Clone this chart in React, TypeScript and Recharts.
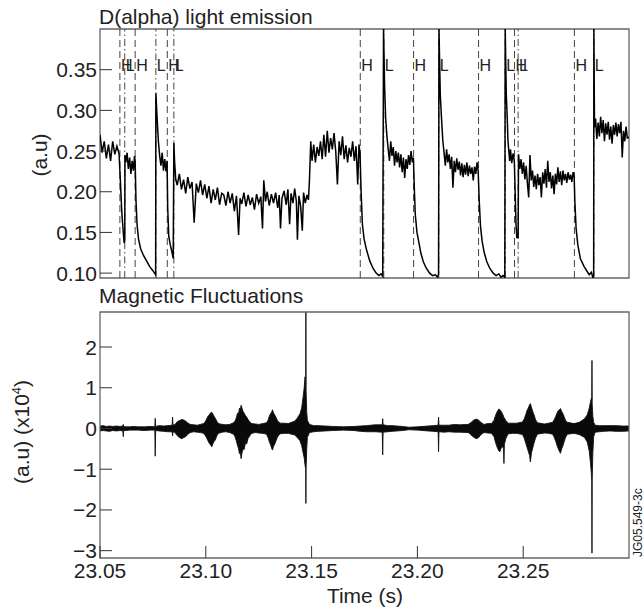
import React from "react";
import {
  LineChart,
  Line,
  ComposedChart,
  Area,
  XAxis,
  YAxis,
  ReferenceLine,
  ReferenceArea,
} from "recharts";

// D(alpha) trace: [time (s), signal (a.u)]
const dalpha: [number, number][] = [
  [23.05, 0.27], [23.051, 0.248], [23.052, 0.262], [23.053, 0.241], [23.054, 0.258],
  [23.055, 0.238], [23.056, 0.262], [23.057, 0.246], [23.058, 0.256], [23.059, 0.247],
  [23.0596, 0.215], [23.0603, 0.175], [23.061, 0.15], [23.0614, 0.137], [23.0617, 0.14],
  [23.0618, 0.245], [23.0622, 0.236], [23.0628, 0.248], [23.0634, 0.228], [23.064, 0.242],
  [23.0646, 0.222], [23.0652, 0.238], [23.0658, 0.226], [23.0663, 0.244], [23.0666, 0.238],
  [23.067, 0.19], [23.0675, 0.16], [23.0682, 0.142], [23.0692, 0.13], [23.0705, 0.122],
  [23.072, 0.115], [23.0735, 0.108], [23.075, 0.103], [23.076, 0.099], [23.0763, 0.098],
  [23.0764, 0.321], [23.077, 0.29], [23.0776, 0.262], [23.0782, 0.244], [23.0788, 0.232],
  [23.0794, 0.248], [23.08, 0.226], [23.0806, 0.24], [23.0812, 0.225], [23.0817, 0.238],
  [23.082, 0.18], [23.0825, 0.145], [23.0832, 0.135], [23.084, 0.126], [23.0846, 0.118],
  [23.0849, 0.26], [23.0853, 0.235], [23.0858, 0.215], [23.0865, 0.208], [23.0875, 0.222],
  [23.0885, 0.203], [23.0895, 0.215], [23.0905, 0.198], [23.0915, 0.218], [23.0925, 0.204],
  [23.0935, 0.212], [23.0945, 0.162], [23.0955, 0.21], [23.0965, 0.199], [23.0975, 0.214],
  [23.0985, 0.196], [23.0995, 0.209], [23.1005, 0.192], [23.1015, 0.207], [23.1025, 0.186],
  [23.1035, 0.203], [23.1045, 0.19], [23.1055, 0.205], [23.1065, 0.184], [23.1075, 0.198],
  [23.1085, 0.196], [23.1095, 0.183], [23.1105, 0.2], [23.1115, 0.186], [23.1125, 0.198],
  [23.1135, 0.176], [23.1145, 0.195], [23.1155, 0.147], [23.1162, 0.192], [23.117, 0.185],
  [23.118, 0.199], [23.119, 0.182], [23.12, 0.196], [23.121, 0.184], [23.122, 0.193],
  [23.123, 0.178], [23.124, 0.197], [23.125, 0.186], [23.126, 0.194], [23.1268, 0.155],
  [23.1274, 0.214], [23.1282, 0.188], [23.129, 0.2], [23.13, 0.183], [23.131, 0.197],
  [23.132, 0.186], [23.133, 0.199], [23.134, 0.18], [23.1347, 0.196], [23.1353, 0.155],
  [23.136, 0.192], [23.137, 0.201], [23.138, 0.184], [23.1388, 0.203], [23.1396, 0.16],
  [23.1403, 0.198], [23.1412, 0.186], [23.142, 0.204], [23.1428, 0.188], [23.1433, 0.141],
  [23.144, 0.195], [23.1448, 0.183], [23.1456, 0.152], [23.1462, 0.199], [23.147, 0.186],
  [23.1478, 0.196], [23.1485, 0.19], [23.149, 0.215], [23.1496, 0.262], [23.1502, 0.238],
  [23.151, 0.258], [23.1518, 0.236], [23.1526, 0.255], [23.1534, 0.244], [23.1542, 0.262],
  [23.155, 0.24], [23.1558, 0.27], [23.1566, 0.243], [23.1574, 0.275], [23.1582, 0.248],
  [23.159, 0.266], [23.1598, 0.252], [23.1606, 0.272], [23.1614, 0.25], [23.1622, 0.209],
  [23.163, 0.262], [23.1638, 0.245], [23.1646, 0.268], [23.1654, 0.24], [23.1662, 0.257],
  [23.167, 0.236], [23.1678, 0.254], [23.1686, 0.243], [23.1694, 0.262], [23.1702, 0.238],
  [23.171, 0.256], [23.1718, 0.209], [23.1724, 0.258], [23.1729, 0.246],
  [23.1734, 0.2], [23.174, 0.16], [23.1748, 0.142], [23.176, 0.128], [23.1775, 0.115],
  [23.179, 0.106], [23.1805, 0.1], [23.1818, 0.097], [23.1828, 0.099], [23.1836, 0.096],
  [23.184, 0.4], [23.1845, 0.33], [23.185, 0.29], [23.1856, 0.268], [23.1862, 0.252],
  [23.1868, 0.238], [23.1874, 0.262], [23.188, 0.244], [23.1886, 0.255], [23.1892, 0.232],
  [23.1898, 0.25], [23.1904, 0.236], [23.191, 0.248], [23.1916, 0.23], [23.1922, 0.246],
  [23.1928, 0.224], [23.1934, 0.242], [23.194, 0.217], [23.1946, 0.24], [23.1952, 0.228],
  [23.1958, 0.245], [23.1964, 0.233], [23.197, 0.25], [23.1976, 0.236], [23.1981, 0.242],
  [23.1986, 0.2], [23.199, 0.172], [23.1998, 0.15], [23.2006, 0.139], [23.2016, 0.125],
  [23.2028, 0.114], [23.2042, 0.106], [23.2058, 0.1], [23.2072, 0.097], [23.2085, 0.098],
  [23.2095, 0.095], [23.21, 0.099], [23.2102, 0.4], [23.2108, 0.32], [23.2114, 0.29],
  [23.212, 0.263], [23.2126, 0.248], [23.2132, 0.232], [23.2138, 0.252], [23.2144, 0.236],
  [23.215, 0.246], [23.2156, 0.228], [23.2162, 0.243], [23.2168, 0.205], [23.2174, 0.238],
  [23.218, 0.224], [23.2186, 0.241], [23.2192, 0.227], [23.2198, 0.237], [23.2204, 0.22],
  [23.221, 0.235], [23.2216, 0.218], [23.2222, 0.233], [23.2228, 0.221], [23.2234, 0.236],
  [23.224, 0.219], [23.2246, 0.232], [23.2252, 0.222], [23.2258, 0.23], [23.2264, 0.214],
  [23.227, 0.231], [23.2276, 0.222], [23.2282, 0.236], [23.2287, 0.226],
  [23.2292, 0.19], [23.2298, 0.158], [23.2306, 0.139], [23.2316, 0.125], [23.2328, 0.114],
  [23.2342, 0.106], [23.2358, 0.1], [23.2372, 0.097], [23.2385, 0.099], [23.2395, 0.095],
  [23.2405, 0.097], [23.2413, 0.095], [23.2415, 0.4], [23.242, 0.32], [23.2424, 0.295],
  [23.2428, 0.263], [23.2432, 0.25], [23.2436, 0.238], [23.244, 0.252], [23.2446, 0.235],
  [23.2452, 0.247], [23.2458, 0.238], [23.2462, 0.2], [23.2466, 0.16], [23.247, 0.143],
  [23.2474, 0.148], [23.2476, 0.143], [23.2478, 0.246], [23.2484, 0.228], [23.249, 0.24],
  [23.2496, 0.222], [23.2502, 0.236], [23.2508, 0.215], [23.2514, 0.232], [23.252, 0.21],
  [23.2526, 0.193], [23.2532, 0.245], [23.2538, 0.214], [23.2544, 0.226], [23.255, 0.206],
  [23.2556, 0.22], [23.2562, 0.203], [23.2568, 0.222], [23.2574, 0.208], [23.258, 0.218],
  [23.2586, 0.193], [23.2592, 0.224], [23.2598, 0.21], [23.2604, 0.228], [23.261, 0.205],
  [23.2616, 0.238], [23.2622, 0.212], [23.2628, 0.224], [23.2634, 0.204], [23.264, 0.22],
  [23.2646, 0.197], [23.2652, 0.222], [23.2658, 0.209], [23.2664, 0.23], [23.267, 0.212],
  [23.2676, 0.225], [23.2682, 0.208], [23.2688, 0.226], [23.2694, 0.214], [23.27, 0.222],
  [23.2706, 0.211], [23.2712, 0.224], [23.2718, 0.215], [23.2724, 0.221], [23.273, 0.212],
  [23.2736, 0.224], [23.2741, 0.218], [23.2744, 0.189], [23.275, 0.155], [23.2758, 0.135],
  [23.277, 0.118], [23.2788, 0.108], [23.2812, 0.098], [23.2822, 0.101], [23.283, 0.094],
  [23.2833, 0.097], [23.2834, 0.4], [23.2837, 0.279], [23.2842, 0.29], [23.2848, 0.265],
  [23.2854, 0.285], [23.286, 0.268], [23.2866, 0.292], [23.2872, 0.272], [23.2878, 0.288],
  [23.2884, 0.262], [23.289, 0.284], [23.2896, 0.27], [23.2902, 0.286], [23.2908, 0.264],
  [23.2914, 0.28], [23.292, 0.259], [23.2926, 0.282], [23.2932, 0.27], [23.2938, 0.285],
  [23.2944, 0.268], [23.295, 0.283], [23.2956, 0.272], [23.2962, 0.286], [23.2968, 0.242],
  [23.2974, 0.275], [23.298, 0.262], [23.2986, 0.28], [23.2992, 0.266], [23.3, 0.267],
];

// magnetic fluctuation envelope: [time (s), min, max] in units of 1e4
const magEnvelope: [number, number, number][] = [
  [23.05, -0.06, 0.06], [23.0515, -0.05, 0.07], [23.053, -0.06, 0.05], [23.0545, -0.07, 0.06],
  [23.056, -0.05, 0.05], [23.0578, -0.06, 0.06], [23.0595, -0.05, 0.05],
  [23.0608, -0.06, 0.06], [23.061, -0.2, 0.1], [23.0612, -0.05, 0.05], [23.0625, -0.05, 0.04],
  [23.064, -0.04, 0.04], [23.066, -0.04, 0.05], [23.068, -0.04, 0.04], [23.071, -0.05, 0.04],
  [23.074, -0.04, 0.05], [23.0759, -0.04, 0.04], [23.0761, -0.68, 0.25],
  [23.0763, -0.05, 0.05], [23.078, -0.06, 0.07], [23.08, -0.07, 0.06], [23.082, -0.08, 0.07],
  [23.0841, -0.08, 0.08], [23.0843, -0.18, 0.28], [23.0845, -0.08, 0.08],
  [23.0855, -0.1, 0.1], [23.0862, -0.16, 0.15], [23.087, -0.2, 0.18], [23.0878, -0.23, 0.2],
  [23.0887, -0.25, 0.22], [23.0896, -0.22, 0.21], [23.0905, -0.2, 0.18], [23.0914, -0.15, 0.14],
  [23.0926, -0.1, 0.1], [23.0943, -0.08, 0.09], [23.096, -0.09, 0.08], [23.0975, -0.1, 0.1],
  [23.0989, -0.12, 0.12], [23.0996, -0.16, 0.15], [23.1003, -0.22, 0.22], [23.101, -0.3, 0.3],
  [23.1016, -0.36, 0.33], [23.1022, -0.4, 0.38], [23.1028, -0.45, 0.4], [23.1033, -0.38, 0.36],
  [23.1039, -0.32, 0.3], [23.1045, -0.28, 0.25], [23.1052, -0.18, 0.18], [23.106, -0.12, 0.12],
  [23.1077, -0.09, 0.1], [23.1095, -0.08, 0.09], [23.1113, -0.1, 0.1],
  [23.1131, -0.14, 0.14], [23.1138, -0.2, 0.18], [23.1144, -0.3, 0.26], [23.115, -0.42, 0.38],
  [23.1155, -0.5, 0.36], [23.1159, -0.62, 0.5], [23.1163, -0.58, 0.46], [23.1167, -0.74, 0.57],
  [23.1171, -0.6, 0.5], [23.1176, -0.5, 0.42], [23.1181, -0.52, 0.38], [23.1187, -0.36, 0.32],
  [23.1193, -0.38, 0.28], [23.12, -0.24, 0.22], [23.1208, -0.18, 0.16], [23.1217, -0.12, 0.12],
  [23.1235, -0.1, 0.11], [23.125, -0.11, 0.1], [23.127, -0.12, 0.12],
  [23.1287, -0.14, 0.14], [23.1294, -0.22, 0.2], [23.13, -0.32, 0.3], [23.1306, -0.4, 0.36],
  [23.1311, -0.48, 0.4], [23.1315, -0.53, 0.46], [23.132, -0.44, 0.38], [23.1326, -0.38, 0.33],
  [23.1332, -0.3, 0.27], [23.1338, -0.22, 0.2], [23.1345, -0.16, 0.15], [23.1353, -0.13, 0.13],
  [23.137, -0.12, 0.13], [23.139, -0.12, 0.12], [23.1405, -0.14, 0.15], [23.142, -0.16, 0.18],
  [23.1432, -0.22, 0.25], [23.1445, -0.3, 0.36], [23.1453, -0.42, 0.5], [23.146, -0.6, 0.78],
  [23.1465, -0.72, 1.0], [23.1469, -0.9, 1.27], [23.1472, -1.0, 1.1], [23.1473, -1.84, 2.86],
  [23.1474, -1.0, 0.9], [23.1477, -0.5, 0.4], [23.148, -0.22, 0.2],
  [23.149, -0.1, 0.1], [23.151, -0.08, 0.07], [23.153, -0.07, 0.07], [23.1565, -0.06, 0.06],
  [23.16, -0.05, 0.05], [23.165, -0.04, 0.04], [23.17, -0.05, 0.05], [23.173, -0.07, 0.06],
  [23.176, -0.08, 0.07], [23.18, -0.08, 0.09], [23.1834, -0.09, 0.09], [23.1836, -0.65, 0.24],
  [23.1838, -0.09, 0.09], [23.186, -0.08, 0.07], [23.188, -0.07, 0.07], [23.193, -0.05, 0.05],
  [23.196, -0.03, 0.03], [23.2, -0.04, 0.04], [23.205, -0.06, 0.06], [23.2075, -0.07, 0.07],
  [23.2098, -0.08, 0.08], [23.21, -0.57, 0.28], [23.2102, -0.08, 0.08], [23.2125, -0.09, 0.08],
  [23.215, -0.08, 0.08], [23.2175, -0.09, 0.1], [23.22, -0.09, 0.09], [23.224, -0.1, 0.1],
  [23.2252, -0.15, 0.14], [23.226, -0.19, 0.18], [23.2268, -0.22, 0.21], [23.2278, -0.25, 0.23],
  [23.2288, -0.23, 0.21], [23.2296, -0.18, 0.17], [23.2305, -0.13, 0.13], [23.2315, -0.1, 0.1],
  [23.2332, -0.11, 0.12], [23.235, -0.12, 0.12], [23.2362, -0.2, 0.2], [23.2368, -0.32, 0.3],
  [23.2374, -0.42, 0.38], [23.238, -0.5, 0.44], [23.2385, -0.55, 0.48], [23.239, -0.57, 0.46],
  [23.2396, -0.48, 0.42], [23.2402, -0.44, 0.36], [23.2407, -0.5, 0.3], [23.2409, -0.86, 0.25],
  [23.2411, -0.4, 0.26], [23.2417, -0.26, 0.2], [23.2424, -0.18, 0.16], [23.243, -0.13, 0.13],
  [23.245, -0.12, 0.13], [23.247, -0.12, 0.13], [23.2497, -0.15, 0.16], [23.2505, -0.24, 0.24],
  [23.2512, -0.36, 0.34], [23.2518, -0.46, 0.44], [23.2524, -0.56, 0.5], [23.253, -0.66, 0.58],
  [23.2534, -0.82, 0.61], [23.2539, -0.6, 0.52], [23.2545, -0.48, 0.42], [23.2551, -0.36, 0.34],
  [23.2558, -0.24, 0.22], [23.2567, -0.14, 0.14], [23.26, -0.11, 0.11], [23.262, -0.12, 0.13],
  [23.2639, -0.14, 0.15], [23.2647, -0.22, 0.22], [23.2654, -0.32, 0.3], [23.266, -0.42, 0.38],
  [23.2666, -0.5, 0.44], [23.2671, -0.56, 0.46], [23.2676, -0.61, 0.49], [23.2682, -0.5, 0.42],
  [23.2688, -0.42, 0.36], [23.2694, -0.32, 0.28], [23.27, -0.22, 0.2], [23.2709, -0.14, 0.15],
  [23.274, -0.12, 0.12], [23.2765, -0.15, 0.15], [23.279, -0.22, 0.24], [23.2803, -0.34, 0.34],
  [23.2812, -0.55, 0.5], [23.2818, -0.85, 0.65], [23.2822, -1.1, 0.74], [23.2824, -1.3, 0.7],
  [23.2825, -3.06, 1.67], [23.2826, -1.3, 0.6], [23.2829, -0.6, 0.3], [23.2833, -0.2, 0.15],
  [23.284, -0.09, 0.08], [23.286, -0.08, 0.07], [23.288, -0.07, 0.07], [23.291, -0.06, 0.07],
  [23.294, -0.07, 0.07], [23.297, -0.07, 0.06], [23.3, -0.06, 0.06],
];

// transition markers
const hTimes = [23.0594, 23.0666, 23.0818, 23.173, 23.1982, 23.2289, 23.2459, 23.2742];
const lTimes = [23.0617, 23.0764, 23.0849, 23.1841, 23.2101, 23.2415, 23.2476, 23.2834];

const timeTicks = [23.05, 23.1, 23.15, 23.2, 23.25];
const dalphaTicks = [0.1, 0.15, 0.2, 0.25, 0.3, 0.35];
const magTicks = [-3, -2, -1, 0, 1, 2];

const T_DOMAIN: [number, number] = [23.05, 23.3];
const DA_DOMAIN: [number, number] = [0.094, 0.4];
const MAG_DOMAIN: [number, number] = [-3.18, 2.86];

const FONT = "'Liberation Sans', Arial, Helvetica, sans-serif";
const INK = "#222";
const FRAME = "#666";

const topData = dalpha.map(([t, v]) => ({ t, v }));
const bottomData = magEnvelope.map(([t, lo, hi]) => ({ t, range: [lo, hi] }));

function YTick({ x, y, payload, digits }: any) {
  const val = Number(payload.value);
  const txt = digits > 0 ? val.toFixed(digits) : val < 0 ? "\u2212" + Math.abs(val) : String(val);
  return (
    <g>
      <line x1={x} y1={y} x2={x + 12} y2={y} stroke="#333" strokeWidth={1} />
      <text x={x - 3} y={y + 7.5} textAnchor="end" fontSize={21} fontFamily={FONT} fill={INK}>
        {txt}
      </text>
    </g>
  );
}

function XTick({ x, y, payload }: any) {
  return (
    <g>
      <line x1={x} y1={y} x2={x} y2={y - 12} stroke="#333" strokeWidth={1} />
      <text x={x} y={y + 20} textAnchor="middle" fontSize={21} fontFamily={FONT} fill={INK}>
        {Number(payload.value).toFixed(2)}
      </text>
    </g>
  );
}

const markLabel = (text: string) => (props: any) => {
  const vb = props.viewBox || {};
  return (
    <text x={(vb.x ?? 0) + 1} y={71} fontSize={16} fontFamily={FONT} fill="#222" stroke="none">
      {text}
    </text>
  );
};

export default function App() {
  return (
    <div style={{ position: "absolute", left: 0, top: 0, width: 644, height: 613, background: "#fff" }}>
      <div style={{ position: "absolute", left: 0, top: 0 }}>
        <LineChart width={644} height={290} data={topData} margin={{ top: 29, right: 15, bottom: 12, left: 0 }}>
          <XAxis type="number" dataKey="t" domain={T_DOMAIN} allowDataOverflow hide />
          <YAxis
            type="number"
            domain={DA_DOMAIN}
            allowDataOverflow
            ticks={dalphaTicks}
            width={100}
            axisLine={false}
            tickLine={false}
            tickSize={0}
            tickMargin={0}
            tick={<YTick digits={2} />}
          />
          <ReferenceArea x1={T_DOMAIN[0]} x2={T_DOMAIN[1]} y1={DA_DOMAIN[0]} y2={DA_DOMAIN[1]} fill="none" stroke={FRAME} strokeWidth={1.3} />
          {hTimes.map((t) => (
            <ReferenceLine key={"h" + t} x={t} stroke="#444" strokeWidth={1} strokeDasharray="7 4" label={markLabel("H")} />
          ))}
          {lTimes.map((t) => (
            <ReferenceLine key={"l" + t} x={t} stroke="#444" strokeWidth={1} strokeDasharray="7 3 1.5 3" label={markLabel("L")} />
          ))}
          <Line type="linear" dataKey="v" stroke="#000" strokeWidth={1.5} dot={false} isAnimationActive={false} />
        </LineChart>
      </div>
      <div style={{ position: "absolute", left: 0, top: 290 }}>
        <ComposedChart width={644} height={323} data={bottomData} margin={{ top: 22, right: 15, bottom: 0, left: 0 }}>
          <XAxis
            type="number"
            dataKey="t"
            domain={T_DOMAIN}
            allowDataOverflow
            ticks={timeTicks}
            height={55}
            axisLine={false}
            tickLine={false}
            tickSize={0}
            tickMargin={0}
            tick={<XTick />}
            interval={0}
          />
          <YAxis
            type="number"
            domain={MAG_DOMAIN}
            allowDataOverflow
            ticks={magTicks}
            width={100}
            axisLine={false}
            tickLine={false}
            tickSize={0}
            tickMargin={0}
            tick={<YTick digits={0} />}
          />
          <Area type="linear" dataKey="range" stroke="#111" strokeWidth={0.9} fill="#0a0a0a" fillOpacity={1} isAnimationActive={false} />
          <ReferenceArea x1={T_DOMAIN[0]} x2={T_DOMAIN[1]} y1={MAG_DOMAIN[0]} y2={MAG_DOMAIN[1]} fill="none" stroke={FRAME} strokeWidth={1.3} />
        </ComposedChart>
      </div>
      <svg width={644} height={613} style={{ position: "absolute", left: 0, top: 0, pointerEvents: "none" }}>
        <g fontFamily={FONT} fill={INK}>
          <text x={99} y={23.5} fontSize={21}>D(alpha) light emission</text>
          <text x={99} y={302.5} fontSize={21}>Magnetic Fluctuations</text>
          <text x={365} y={603} fontSize={21} textAnchor="middle">Time (s)</text>
          <text x={47} y={155} fontSize={21} textAnchor="middle" transform="rotate(-90 47 155)">(a.u)</text>
          <text x={29} y={432} fontSize={21} textAnchor="middle" transform="rotate(-90 29 432)">
            (a.u) (x10<tspan fontSize={13} dy={-8}>4</tspan><tspan dy={8}>)</tspan>
          </text>
          <text x={642} y={557} fontSize={12} transform="rotate(-90 642 557)">JG05.549-3c</text>
        </g>
      </svg>
    </div>
  );
}
